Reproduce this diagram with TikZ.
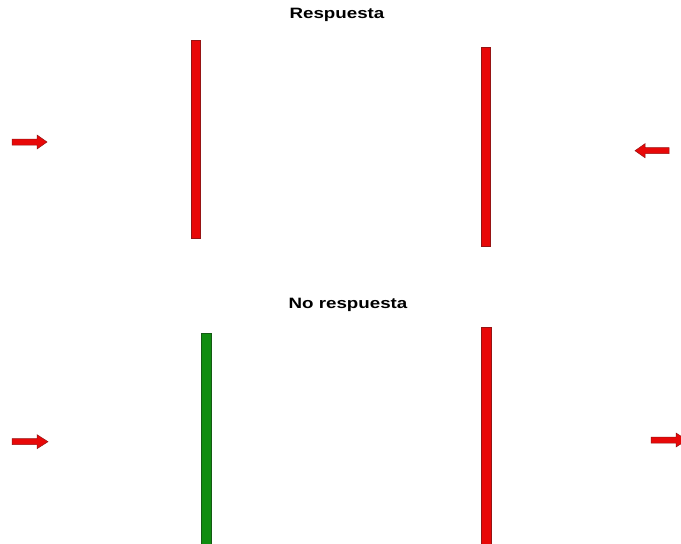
\documentclass[tikz,border=0pt]{standalone}
\usepackage{fontspec}
\setmainfont{Liberation Sans}
\definecolor{barred}{RGB}{232,8,8}
\definecolor{barredline}{RGB}{150,20,20}
\definecolor{bargreen}{RGB}{16,140,16}
\definecolor{bargreenline}{RGB}{20,90,20}
\tikzset{
  redbar/.style={fill=barred, draw=barredline, line width=0.6pt},
  greenbar/.style={fill=bargreen, draw=bargreenline, line width=0.6pt},
  arrowshape/.style={fill=barred, draw=barredline, line width=0.5pt, line join=miter},
  title/.style={font=\fontsize{15}{18}\selectfont\bfseries, xscale=1.25, inner sep=0pt}
}
\begin{document}
\begin{tikzpicture}[x=1pt,y=-1pt]
\clip (0,0) rectangle (681,544);
\fill[white] (0,0) rectangle (681,544);
\useasboundingbox (0,0) rectangle (681,544);
% titles
\node[title] (t1) at (337,15) {Respuesta};
\node[title] (t2) at (348,305) {No respuesta};
% bars
\path[redbar] (191,40) rectangle (200,238);
\path[redbar] (481,47) rectangle (490,246);
\path[greenbar] (201,333) rectangle (211,548);
\path[redbar] (481,327) rectangle (491,548);
% arrows (right-pointing)
\path[arrowshape] (12,139) -- (37,139) -- (37,135) -- (47,142) -- (37,149) -- (37,145) -- (12,145) -- cycle;
\path[arrowshape] (12,438.7) -- (37,438.7) -- (37,434.7) -- (48,441.7) -- (37,448.7) -- (37,444.7) -- (12,444.7) -- cycle;
% left-pointing
\path[arrowshape] (669,147.7) -- (645,147.7) -- (645,143.7) -- (635,150.7) -- (645,157.7) -- (645,153.7) -- (669,153.7) -- cycle;
% clipped right arrow
\path[arrowshape] (651,437) -- (676,437) -- (676,433) -- (687,440) -- (676,447) -- (676,443) -- (651,443) -- cycle;
\end{tikzpicture}
\end{document}
